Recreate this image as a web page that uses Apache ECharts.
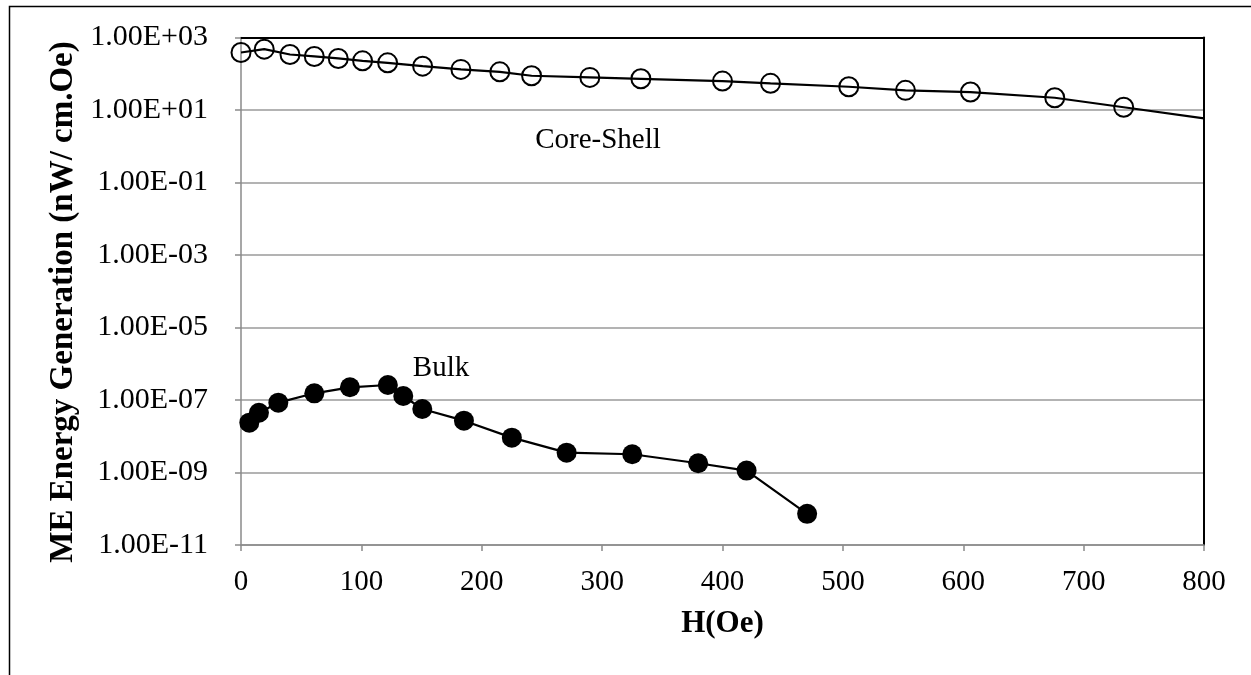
<!DOCTYPE html>
<html><head><meta charset="utf-8">
<script src="https://cdn.jsdelivr.net/npm/echarts@6/dist/echarts.min.js"></script>
<style>html,body{margin:0;padding:0;background:#fff}#c{width:1251px;height:675px}</style>
</head><body><div id="c"></div>
<script>
// Core-Shell series (H in Oe, energy in nW/cm.Oe); last point is the line end without marker
const coreH = [0, 19.3, 40.7, 60.9, 80.8, 101, 121.8, 150.9, 182.7, 215, 241.4, 289.8, 332.2, 400, 439.9, 504.9, 552, 606, 676, 733.3, 800];
const coreE = [386, 476, 340, 300, 264, 227, 200, 162, 132, 113, 88, 79.4, 72.6, 62.8, 54.3, 43.8, 34.8, 31.3, 21.8, 11.9, 5.9];
// Bulk series
const bulkH = [6.9, 14.9, 31, 60.9, 90.5, 122, 134.8, 150.6, 185.2, 225, 270.5, 325, 379.8, 420, 470.3];
const bulkE = [2.37e-8, 4.46e-8, 8.43e-8, 1.53e-7, 2.24e-7, 2.59e-7, 1.29e-7, 5.65e-8, 2.69e-8, 9.15e-9, 3.53e-9, 3.19e-9, 1.80e-9, 1.13e-9, 7.24e-11];
// Axis settings
const xTicks = [0, 100, 200, 300, 400, 500, 600, 700, 800];
const yExpTicks = [-11, -9, -7, -5, -3, -1, 1, 3];
const xTitle = 'H(Oe)';
const yTitle = 'ME Energy Generation (nW/ cm.Oe)';
const labels = {core: 'Core-Shell', bulk: 'Bulk'};

const FONT = '"Liberation Serif", "Times New Roman", serif';
const toPts = (hs, es) => hs.map((h, i) => [h, Math.log10(es[i])]);
const fmtExp = v => { const e = Math.round(v); return '1.00E' + (e < 0 ? '-' : '+') + String(Math.abs(e)).padStart(2, '0'); };

const coreData = toPts(coreH, coreE).map((p, i) => i === coreH.length - 1 ? {value: p, symbol: 'none'} : p);
const bulkData = toPts(bulkH, bulkE);

const xMin = xTicks[0], xMax = xTicks[xTicks.length - 1];
const yMin = yExpTicks[0], yMax = yExpTicks[yExpTicks.length - 1];

const chart = echarts.init(document.getElementById('c'), null, {renderer: 'canvas'});
chart.setOption({
  animation: false,
  backgroundColor: '#fff',
  grid: {left: 241, right: 47, top: 37.5, bottom: 130},
  xAxis: [{
    type: 'value', min: xMin, max: xMax, interval: 100, position: 'bottom',
    axisLine: {onZero: false, lineStyle: {color: '#8a8a8a', width: 1.5}},
    axisTick: {show: true, inside: false, length: 6, lineStyle: {color: '#8a8a8a', width: 1.5}},
    splitLine: {show: false},
    axisLabel: {color: '#000', fontFamily: FONT, fontSize: 29, margin: 23},
    name: xTitle, nameLocation: 'middle', nameGap: 63,
    nameTextStyle: {color: '#000', fontFamily: FONT, fontSize: 31, fontWeight: 'bold'}
  }, {
    type: 'value', position: 'top', min: xMin, max: xMax,
    axisLine: {onZero: false, lineStyle: {color: '#000', width: 2}},
    axisTick: {show: false}, axisLabel: {show: false}, splitLine: {show: false}
  }],
  yAxis: [{
    type: 'value', min: yMin, max: yMax, interval: 2, position: 'left',
    axisLine: {show: true, onZero: false, lineStyle: {color: '#8a8a8a', width: 1.5}},
    axisTick: {show: true, inside: false, length: 6, lineStyle: {color: '#8a8a8a', width: 1.5}},
    splitLine: {show: true, lineStyle: {color: '#9a9a9a', width: 1.5}},
    axisLabel: {color: '#000', fontFamily: FONT, fontSize: 30, margin: 33, formatter: fmtExp}
  }, {
    type: 'value', position: 'right', min: yMin, max: yMax,
    axisLine: {show: true, onZero: false, lineStyle: {color: '#000', width: 2}},
    axisTick: {show: false}, axisLabel: {show: false}, splitLine: {show: false}
  }],
  series: [{
    name: labels.core, type: 'line', data: coreData,
    symbol: 'circle', symbolSize: 19,
    lineStyle: {color: '#000', width: 2.2},
    itemStyle: {color: 'rgba(0,0,0,0)', borderColor: '#000', borderWidth: 2},
    z: 3
  }, {
    name: labels.bulk, type: 'line', data: bulkData,
    symbol: 'circle', symbolSize: 20,
    lineStyle: {color: '#000', width: 2.2},
    itemStyle: {color: '#000', borderColor: '#000', borderWidth: 0},
    z: 3
  }],
  graphic: [
    {type: 'rect', shape: {x: 9.5, y: 6.5, width: 1600, height: 1000}, style: {fill: 'none', stroke: '#000', lineWidth: 1.5}, silent: true, z: -1},
    {type: 'text', x: 63, y: 302, rotation: Math.PI / 2,
     style: {text: yTitle, font: 'bold 33px ' + FONT, fill: '#000', textAlign: 'center', textVerticalAlign: 'middle'}},
    {type: 'text', x: 598, y: 140,
     style: {text: labels.core, font: '29px ' + FONT, fill: '#000', textAlign: 'center', textVerticalAlign: 'middle'}},
    {type: 'text', x: 441, y: 368,
     style: {text: labels.bulk, font: '29px ' + FONT, fill: '#000', textAlign: 'center', textVerticalAlign: 'middle'}}
  ]
});
</script></body></html>
